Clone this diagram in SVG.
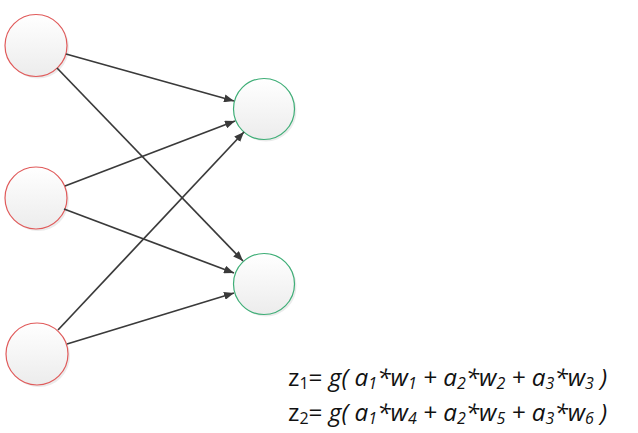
<svg xmlns="http://www.w3.org/2000/svg" width="638" height="433" viewBox="0 0 638 433">
<style>
.in{fill:url(#g);stroke:#e05a5a;stroke-width:1.2}
.out{fill:url(#g);stroke:#3fae77;stroke-width:1.2}
.sh{fill:#000;opacity:0.08}
.c{stroke:#3a3a3a;stroke-width:1.7;fill:none;marker-end:url(#ah)}
.t{font-family:"Open Sans","Liberation Sans",sans-serif;font-size:24.3px;fill:#111}
.i{font-style:italic}
.s{font-size:16px}
</style>
<defs>
<linearGradient id="g" x1="0" y1="0" x2="0" y2="1">
<stop offset="0" stop-color="#ffffff"/>
<stop offset="1" stop-color="#ececec"/>
</linearGradient>
<marker id="ah" viewBox="0 0 10 8" refX="10" refY="4" markerWidth="10" markerHeight="8" markerUnits="userSpaceOnUse" orient="auto">
<path d="M0,0 L10,4 L0,8 Z" fill="#3a3a3a"/>
</marker>
</defs>
<rect width="638" height="433" fill="#fff"/>
<g id="in1"><circle class="sh" cx="38" cy="47.5" r="31"/><circle class="in" cx="36" cy="45.5" r="31"/></g>
<g id="in2"><circle class="sh" cx="38" cy="200" r="31"/><circle class="in" cx="36" cy="198" r="31"/></g>
<g id="in3"><circle class="sh" cx="39" cy="356" r="31"/><circle class="in" cx="37" cy="354" r="31"/></g>
<g id="out1"><circle class="sh" cx="266" cy="111" r="30.5"/><circle class="out" cx="264" cy="109" r="30.5"/></g>
<g id="out2"><circle class="sh" cx="266" cy="286" r="30.5"/><circle class="out" cx="264" cy="284" r="30.5"/></g>
<g id="connectors">
<line class="c" x1="66" y1="54" x2="234" y2="101"/>
<line class="c" x1="57" y1="68" x2="243" y2="261"/>
<line class="c" x1="65" y1="186" x2="235" y2="121"/>
<line class="c" x1="64" y1="209" x2="234" y2="273"/>
<line class="c" x1="58" y1="330" x2="244" y2="132"/>
<line class="c" x1="67" y1="344" x2="234" y2="293"/>
</g>
<g id="formulas">
<text class="t" x="288" y="386">z<tspan class="s" dy="3">1</tspan><tspan dy="-3">= </tspan><tspan class="i">g( a<tspan class="s" dy="3">1</tspan><tspan dy="-3">*w</tspan><tspan class="s" dy="3">1</tspan><tspan dy="-3"> + a</tspan><tspan class="s" dy="3">2</tspan><tspan dy="-3">*w</tspan><tspan class="s" dy="3">2</tspan><tspan dy="-3"> + a</tspan><tspan class="s" dy="3">3</tspan><tspan dy="-3">*w</tspan><tspan class="s" dy="3">3</tspan><tspan dy="-3"> )</tspan></tspan></text>
<text class="t" x="288" y="421">z<tspan class="s" dy="3">2</tspan><tspan dy="-3">= </tspan><tspan class="i">g( a<tspan class="s" dy="3">1</tspan><tspan dy="-3">*w</tspan><tspan class="s" dy="3">4</tspan><tspan dy="-3"> + a</tspan><tspan class="s" dy="3">2</tspan><tspan dy="-3">*w</tspan><tspan class="s" dy="3">5</tspan><tspan dy="-3"> + a</tspan><tspan class="s" dy="3">3</tspan><tspan dy="-3">*w</tspan><tspan class="s" dy="3">6</tspan><tspan dy="-3"> )</tspan></tspan></text>
</g>
</svg>
